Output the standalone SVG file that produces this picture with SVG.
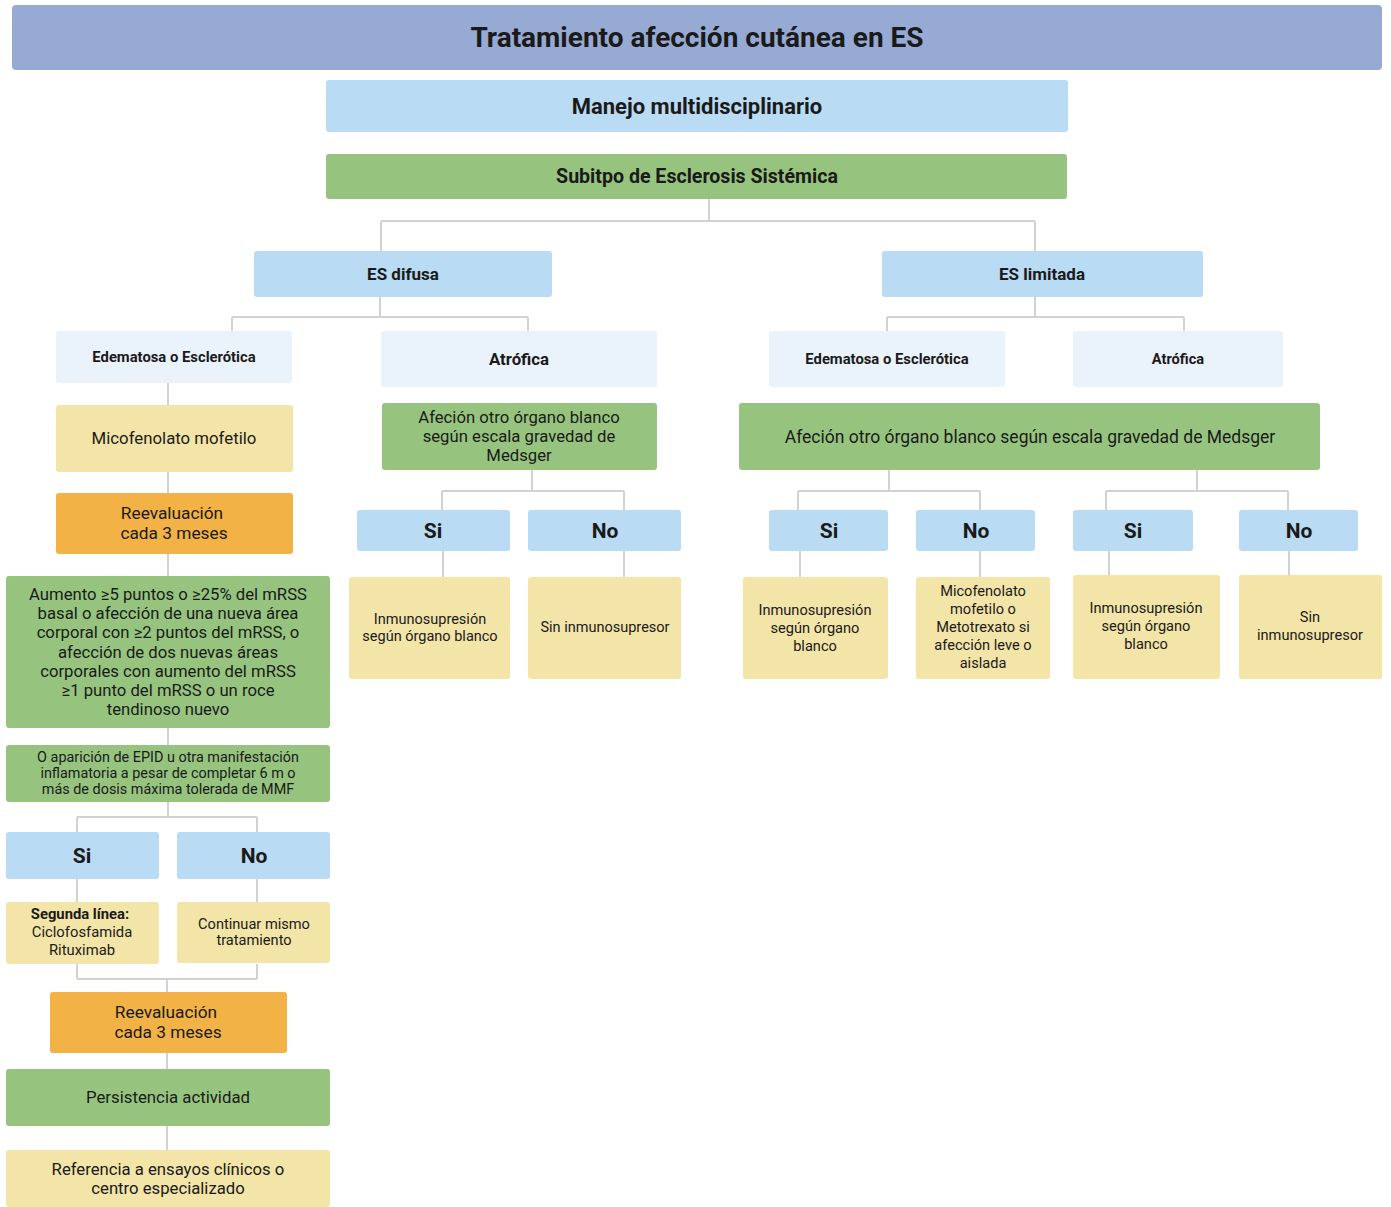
<svg xmlns="http://www.w3.org/2000/svg" width="1391" height="1207" viewBox="0 0 1391 1207">
<style>
.bx{stroke:none}
.t{fill:#97aad4}.b{fill:#b9dbf3}.g{fill:#96c47e}.l{fill:#eaf2fb}.y{fill:#f3e4a8}.o{fill:#f2b245}
text{font-family:Roboto,"Liberation Sans",sans-serif;fill:#1a1a1a;text-anchor:middle}
.bd{font-weight:bold}
.cn{fill:none;stroke:#d2d2d2;stroke-width:2}
</style>
<rect width="1391" height="1207" fill="#ffffff"/>
<g id="connectors">
<path class="cn" d="M709 199V221M381 221H1035M381 221V251M1035 221V251"/>
<path class="cn" d="M380 297V317M232 317H528M232 317V331M528 317V331"/>
<path class="cn" d="M1035 297V317M887 317H1184M887 317V331M1184 317V331"/>
<path class="cn" d="M168 383V405M168 472V493M168 554V576M168 728V745M168 802V817M77 817H257M77 817V832M257 817V832M77 879V902M257 879V902M77 964V979M257 964V979M77 979H257M167 979V992M167 1053V1069M167 1126V1150"/>
<path class="cn" d="M532 470V491M442 491H624M442 491V510M624 491V510M443 551V577M624 551V577"/>
<path class="cn" d="M889 470V491M798 491H980M798 491V510M980 491V510M1197 470V491M1106 491H1288M1106 491V510M1288 491V510M800 551V577M980 551V577M1109 551V575M1289 551V575"/>
</g>
<g id="title"><rect class="t" x="12" y="5" width="1370" height="65" rx="4"/><text class="bd" x="697" y="47" font-size="28">Tratamiento afección cutánea en ES</text></g>
<g id="manejo"><rect class="b" x="326" y="80" width="742" height="52" rx="3"/><text class="bd" x="697" y="114" font-size="22">Manejo multidisciplinario</text></g>
<g id="subtipo"><rect class="g" x="326" y="154" width="741" height="45" rx="3"/><text class="bd" x="697" y="183" font-size="19.6">Subitpo de Esclerosis Sistémica</text></g>
<g id="es-difusa"><rect class="b" x="254" y="251" width="298" height="46" rx="3"/><text class="bd" x="403" y="280" font-size="17">ES difusa</text></g>
<g id="es-limitada"><rect class="b" x="882" y="251" width="321" height="46" rx="3"/><text class="bd" x="1042" y="280" font-size="17">ES limitada</text></g>
<g id="d-edematosa"><rect class="l" x="56" y="331" width="236" height="52" rx="3"/><text class="bd" x="174" y="362" font-size="14.8">Edematosa o Esclerótica</text></g>
<g id="d-atrofica"><rect class="l" x="381" y="331" width="276" height="56" rx="3"/><text class="bd" x="519" y="365" font-size="16.8">Atrófica</text></g>
<g id="l-edematosa"><rect class="l" x="769" y="331" width="236" height="56" rx="3"/><text class="bd" x="887" y="364" font-size="14.8">Edematosa o Esclerótica</text></g>
<g id="l-atrofica"><rect class="l" x="1073" y="331" width="210" height="56" rx="3"/><text class="bd" x="1178" y="364" font-size="14.6">Atrófica</text></g>
<g id="micofenolato"><rect class="y" x="56" y="405" width="237" height="67" rx="3"/><text x="174" y="444" font-size="16.8">Micofenolato mofetilo</text></g>
<g id="reeval1"><rect class="o" x="56" y="493" width="237" height="61" rx="3"/><text x="172" y="519" font-size="17.3">Reevaluación</text><text x="174" y="539" font-size="17.3">cada 3 meses</text></g>
<g id="aumento"><rect class="g" x="6" y="576" width="324" height="152" rx="3"/><text font-size="16.7"><tspan x="168" y="600">Aumento ≥5 puntos o ≥25% del mRSS</tspan><tspan x="168" y="619">basal o afección de una nueva área</tspan><tspan x="168" y="638">corporal con ≥2 puntos del mRSS, o</tspan><tspan x="168" y="658">afección de dos nuevas áreas</tspan><tspan x="168" y="677">corporales con aumento del mRSS</tspan><tspan x="168" y="696">≥1 punto del mRSS o un roce</tspan><tspan x="168" y="715">tendinoso nuevo</tspan></text></g>
<g id="epid"><rect class="g" x="6" y="745" width="324" height="57" rx="3"/><text font-size="14.4"><tspan x="168" y="762">O aparición de EPID u otra manifestación</tspan><tspan x="168" y="778">inflamatoria a pesar de completar 6 m o</tspan><tspan x="168" y="794">más de dosis máxima tolerada de MMF</tspan></text></g>
<g id="d-si"><rect class="b" x="6" y="832" width="153" height="47" rx="3"/><text class="bd" x="82" y="863" font-size="21">Si</text></g>
<g id="d-no"><rect class="b" x="177" y="832" width="153" height="47" rx="3"/><text class="bd" x="254" y="863" font-size="21">No</text></g>
<g id="segunda"><rect class="y" x="6" y="902" width="153" height="62" rx="3"/><text font-size="14.8"><tspan class="bd" x="80" y="919">Segunda línea:</tspan><tspan x="82" y="937">Ciclofosfamida</tspan><tspan x="82" y="955">Rituximab</tspan></text></g>
<g id="continuar"><rect class="y" x="177" y="902" width="153" height="61" rx="3"/><text font-size="14.6"><tspan x="254" y="929">Continuar mismo</tspan><tspan x="254" y="945">tratamiento</tspan></text></g>
<g id="reeval2"><rect class="o" x="50" y="992" width="237" height="61" rx="3"/><text x="166" y="1018" font-size="17.3">Reevaluación</text><text x="168" y="1038" font-size="17.3">cada 3 meses</text></g>
<g id="persistencia"><rect class="g" x="6" y="1069" width="324" height="57" rx="3"/><text x="168" y="1103" font-size="16.8">Persistencia actividad</text></g>
<g id="referencia"><rect class="y" x="6" y="1150" width="324" height="57" rx="3"/><text font-size="16.7"><tspan x="168" y="1175">Referencia a ensayos clínicos o</tspan><tspan x="168" y="1194">centro especializado</tspan></text></g>
<g id="d-afecion"><rect class="g" x="382" y="403" width="275" height="67" rx="3"/><text font-size="16.7"><tspan x="519" y="423">Afeción otro órgano blanco</tspan><tspan x="519" y="442">según escala gravedad de</tspan><tspan x="519" y="461">Medsger</tspan></text></g>
<g id="a-si"><rect class="b" x="357" y="510" width="153" height="41" rx="3"/><text class="bd" x="433" y="538" font-size="21">Si</text></g>
<g id="a-no"><rect class="b" x="528" y="510" width="153" height="41" rx="3"/><text class="bd" x="605" y="538" font-size="21">No</text></g>
<g id="a-inmuno"><rect class="y" x="349" y="577" width="161" height="102" rx="3"/><text font-size="14.5"><tspan x="430" y="624">Inmunosupresión</tspan><tspan x="430" y="641">según órgano blanco</tspan></text></g>
<g id="a-sin"><rect class="y" x="528" y="577" width="153" height="102" rx="3"/><text x="605" y="632" font-size="14.5">Sin inmunosupresor</text></g>
<g id="l-afecion"><rect class="g" x="739" y="403" width="581" height="67" rx="3"/><text x="1030" y="443" font-size="17.5">Afeción otro órgano blanco según escala gravedad de Medsger</text></g>
<g id="l-si1"><rect class="b" x="769" y="510" width="119" height="41" rx="3"/><text class="bd" x="829" y="538" font-size="21">Si</text></g>
<g id="l-no1"><rect class="b" x="916" y="510" width="119" height="41" rx="3"/><text class="bd" x="976" y="538" font-size="21">No</text></g>
<g id="l-si2"><rect class="b" x="1073" y="510" width="120" height="41" rx="3"/><text class="bd" x="1133" y="538" font-size="21">Si</text></g>
<g id="l-no2"><rect class="b" x="1239" y="510" width="119" height="41" rx="3"/><text class="bd" x="1299" y="538" font-size="21">No</text></g>
<g id="l-inmuno1"><rect class="y" x="743" y="577" width="145" height="102" rx="3"/><text font-size="14.6"><tspan x="815" y="615">Inmunosupresión</tspan><tspan x="815" y="633">según órgano</tspan><tspan x="815" y="651">blanco</tspan></text></g>
<g id="l-mico"><rect class="y" x="916" y="577" width="134" height="102" rx="3"/><text font-size="14.6"><tspan x="983" y="596">Micofenolato</tspan><tspan x="983" y="614">mofetilo o</tspan><tspan x="983" y="632">Metotrexato si</tspan><tspan x="983" y="650">afección leve o</tspan><tspan x="983" y="668">aislada</tspan></text></g>
<g id="l-inmuno2"><rect class="y" x="1073" y="575" width="147" height="104" rx="3"/><text font-size="14.6"><tspan x="1146" y="613">Inmunosupresión</tspan><tspan x="1146" y="631">según órgano</tspan><tspan x="1146" y="649">blanco</tspan></text></g>
<g id="l-sin"><rect class="y" x="1239" y="575" width="143" height="104" rx="3"/><text font-size="14.6"><tspan x="1310" y="622">Sin</tspan><tspan x="1310" y="640">inmunosupresor</tspan></text></g>
</svg>
